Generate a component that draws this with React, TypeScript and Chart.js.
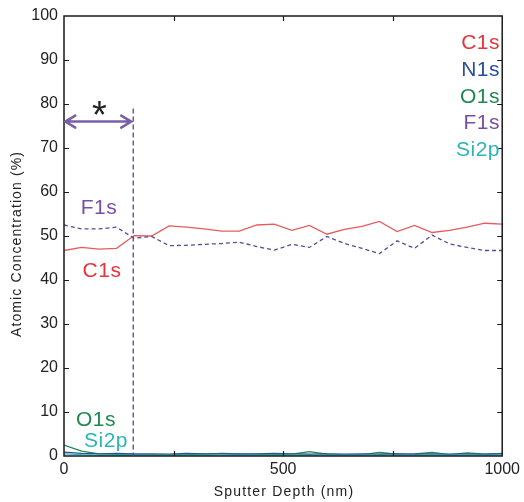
import React, { useEffect, useRef } from "react";
import { Chart, registerables } from "chart.js";

Chart.register(...registerables);

const depth = [0, 40, 80, 120, 160, 200, 240, 280, 320, 360, 400, 440, 480, 520, 560, 600, 640, 680, 720, 760, 800, 840, 880, 920, 960, 1000];
const c1s = [46.7, 47.4, 47.0, 47.2, 50.1, 50.0, 52.3, 52.0, 51.6, 51.1, 51.1, 52.5, 52.7, 51.3, 52.4, 50.4, 51.5, 52.2, 53.3, 51.0, 52.4, 50.8, 51.3, 52.0, 52.9, 52.7];
const f1s = [52.5, 51.6, 51.6, 52.0, 49.5, 49.9, 47.8, 47.9, 48.1, 48.3, 48.6, 47.6, 46.8, 48.1, 47.4, 49.9, 48.3, 47.2, 46.0, 48.9, 47.2, 50.2, 48.2, 47.4, 46.7, 46.7];
const o1s = [2.5, 1.1, 0.5, 0.4, 0.3, 0.3, 0.3, 0.4, 0.4, 0.6, 0.5, 0.4, 0.3, 0.4, 1.0, 0.4, 0.3, 0.3, 0.8, 0.4, 0.5, 0.8, 0.3, 0.7, 0.4, 0.6];
const n1s = [0.9, 0.6, 0.5, 0.6, 0.5, 0.5, 0.4, 0.6, 0.5, 0.5, 0.4, 0.5, 0.6, 0.5, 0.4, 0.5, 0.4, 0.5, 0.4, 0.5, 0.4, 0.5, 0.4, 0.5, 0.4, 0.5];
const si2p = [0.5, 0.3, 0.2, 0.2, 0.2, 0.2, 0.2, 0.2, 0.2, 0.2, 0.2, 0.2, 0.2, 0.2, 0.2, 0.2, 0.2, 0.2, 0.2, 0.2, 0.2, 0.2, 0.2, 0.2, 0.2, 0.2];

const seriesNames = ["C1s", "N1s", "O1s", "F1s", "Si2p"];
const seriesColors = ["#e8333c", "#2a4f9e", "#1f8a4c", "#7a4ea6", "#2bb6b8"];

const xTickLabels = [0, 500, 1000];
const markerDepth = 158;
const arrowStart = 3;
const arrowLevel = 76;
const markerTop = 79;

const FONT = "'Liberation Sans', Arial, sans-serif";

const overlay = {
  id: "overlay",
  afterDraw(chart: any) {
    const { ctx, chartArea: a, scales } = chart;
    const xs = scales.x;
    const ys = scales.y;
    ctx.save();
    // frame
    ctx.strokeStyle = "#1a1a1a";
    ctx.lineWidth = 1.5;
    ctx.strokeRect(a.left, a.top, a.right - a.left, a.bottom - a.top);
    // inward ticks
    ctx.lineWidth = 1.2;
    for (let v = 10; v < 100; v += 10) {
      const y = Math.round(ys.getPixelForValue(v)) + 0.5;
      ctx.beginPath();
      ctx.moveTo(a.left, y); ctx.lineTo(a.left + 5, y);
      ctx.moveTo(a.right, y); ctx.lineTo(a.right - 5, y);
      ctx.stroke();
    }
    for (let v = 250; v < 1000; v += 250) {
      const x = Math.round(xs.getPixelForValue(v)) + 0.5;
      ctx.beginPath();
      ctx.moveTo(x, a.bottom); ctx.lineTo(x, a.bottom - 5);
      ctx.moveTo(x, a.top); ctx.lineTo(x, a.top + 5);
      ctx.stroke();
    }
    // axis titles
    ctx.fillStyle = "#222";
    ctx.font = `14px ${FONT}`;
    ctx.textAlign = "center";
    ctx.textBaseline = "middle";
    (ctx as any).letterSpacing = "1.2px";
    ctx.fillText("Sputter Depth (nm)", 284, 492);
    ctx.save();
    ctx.translate(17, 244);
    ctx.rotate(-Math.PI / 2);
    (ctx as any).letterSpacing = "1.1px";
    ctx.fillText("Atomic Concentration (%)", 0, 0);
    ctx.restore();
    (ctx as any).letterSpacing = "0.5px";

    // legend on right
    ctx.font = `21px ${FONT}`;
    ctx.textAlign = "right";
    const legY = [43, 70, 97, 123, 150];
    seriesNames.forEach((n, i) => {
      ctx.fillStyle = seriesColors[i];
      ctx.fillText(n, 500, legY[i]);
    });
    // inline labels
    ctx.textAlign = "center";
    ctx.fillStyle = seriesColors[3];
    ctx.fillText("F1s", 99, 208);
    ctx.fillStyle = seriesColors[0];
    ctx.fillText("C1s", 102, 271);
    ctx.fillStyle = seriesColors[2];
    ctx.fillText("O1s", 96, 420);
    ctx.fillStyle = seriesColors[4];
    ctx.fillText("Si2p", 106, 441);
    (ctx as any).letterSpacing = "0px";

    // dashed marker line
    const mx = xs.getPixelForValue(markerDepth);
    ctx.strokeStyle = "#4a4a98";
    ctx.lineWidth = 1.3;
    ctx.setLineDash([5, 3]);
    ctx.beginPath();
    ctx.moveTo(mx, ys.getPixelForValue(markerTop));
    ctx.lineTo(mx, a.bottom);
    ctx.stroke();
    ctx.setLineDash([]);

    // double arrow
    const ay = ys.getPixelForValue(arrowLevel);
    const ax1 = xs.getPixelForValue(arrowStart);
    const ax2 = mx - 2;
    ctx.strokeStyle = "#7a5ea8";
    ctx.lineWidth = 2.5;
    ctx.lineCap = "round";
    ctx.beginPath();
    ctx.moveTo(ax1, ay); ctx.lineTo(ax2, ay);
    ctx.moveTo(ax1 + 10, ay - 6); ctx.lineTo(ax1, ay); ctx.lineTo(ax1 + 10, ay + 6);
    ctx.moveTo(ax2 - 10, ay - 6); ctx.lineTo(ax2, ay); ctx.lineTo(ax2 - 10, ay + 6);
    ctx.stroke();
    // asterisk
    ctx.fillStyle = "#222";
    ctx.font = `38px ${FONT}`;
    ctx.textAlign = "center";
    ctx.textBaseline = "alphabetic";
    ctx.fillText("*", (ax1 + ax2) / 2 + 1, ay + 6);
    ctx.restore();
  },
};

export default function App() {
  const ref = useRef<HTMLCanvasElement>(null);
  useEffect(() => {
    if (!ref.current) return;
    const mk = (vals: number[]) => depth.map((d, i) => ({ x: d, y: vals[i] }));
    const chart = new Chart(ref.current, {
      type: "line",
      data: {
        datasets: [
          { label: "Si2p", data: mk(si2p), borderColor: seriesColors[4], borderWidth: 1.3, pointRadius: 0, tension: 0 },
          { label: "N1s", data: mk(n1s), borderColor: seriesColors[1], borderWidth: 1.3, pointRadius: 0, tension: 0 },
          { label: "O1s", data: mk(o1s), borderColor: seriesColors[2], borderWidth: 1.3, pointRadius: 0, tension: 0 },
          { label: "F1s", data: mk(f1s), borderColor: "#5a4a9a", borderWidth: 1.3, borderDash: [4, 3], pointRadius: 0, tension: 0 },
          { label: "C1s", data: mk(c1s), borderColor: "#e85a60", borderWidth: 1.3, pointRadius: 0, tension: 0 },
        ],
      },
      options: {
        animation: false,
        responsive: false,
        maintainAspectRatio: false,
        layout: { padding: { top: 16, right: 18, left: 0, bottom: 0 } },
        plugins: { legend: { display: false }, tooltip: { enabled: false } },
        scales: {
          x: {
            type: "linear",
            min: 0,
            max: 1000,
            grid: { display: false, drawTicks: false },
            border: { display: false },
            afterFit: (s: any) => { s.height = 46; },
            ticks: {
              stepSize: 250,
              maxRotation: 0,
              autoSkip: false,
              color: "#222",
              font: { family: FONT, size: 16 },
              padding: 4,
              callback: (v: any) => (xTickLabels.includes(Number(v)) ? String(v) : ""),
            },
          },
          y: {
            min: 0,
            max: 100,
            grid: { display: false, drawTicks: false },
            border: { display: false },
            afterFit: (s: any) => { s.width = 64; },
            ticks: {
              stepSize: 10,
              color: "#222",
              font: { family: FONT, size: 16 },
              padding: 6,
            },
          },
        },
      },
      plugins: [overlay],
    });
    return () => chart.destroy();
  }, []);
  return (
    <div style={{ position: "fixed", left: 0, top: 0, width: 524, height: 502, background: "#fff" }}>
      <canvas ref={ref} width={524} height={502} style={{ width: 524, height: 502 }} />
    </div>
  );
}
